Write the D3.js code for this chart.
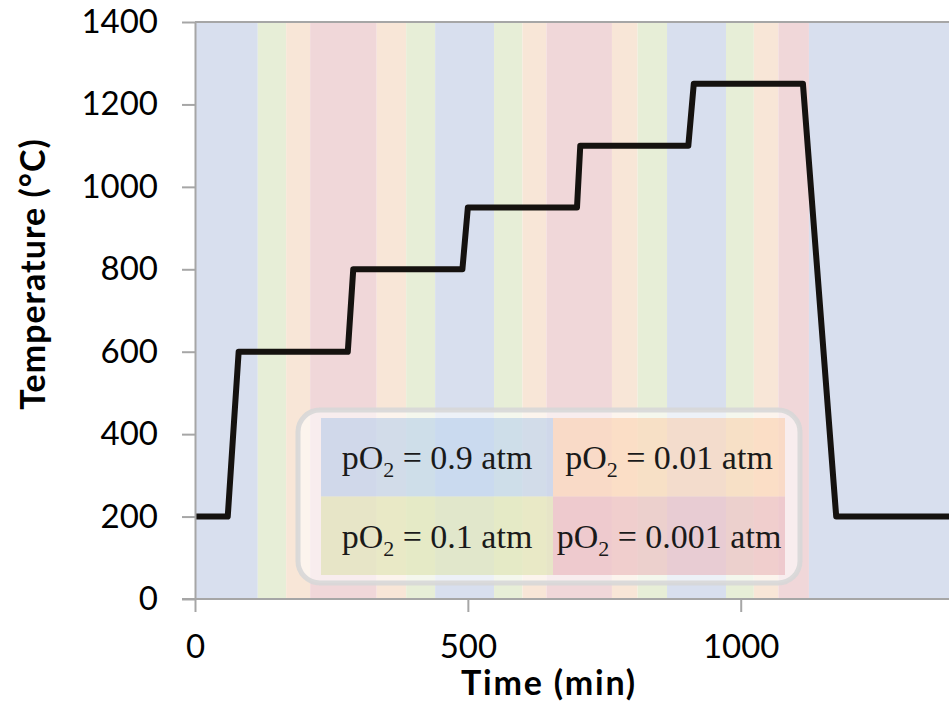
<!DOCTYPE html>
<html>
<head>
<meta charset="utf-8">
<script src="https://cdn.jsdelivr.net/npm/d3@7"></script>
<style>
  body { margin: 0; background: #fff; }
  svg { display: block; }
</style>
</head>
<body>
<div id="chart"></div>
<script>
// temperature profile (min, °C)
const timeMin = [0, 60, 80, 280, 290, 490, 500, 700, 706, 904, 914, 1114, 1175, 1400];
const tempC   = [200, 200, 600, 600, 800, 800, 950, 950, 1100, 1100, 1250, 1250, 200, 200];

// gas atmosphere bands: start/end time and pO2 level
const bandStart = [0, 115, 167, 211, 333, 387, 440, 548, 600, 644, 764, 811, 865, 973, 1024, 1069, 1125];
const bandEnd   = [115, 167, 211, 333, 387, 440, 548, 600, 644, 764, 811, 865, 973, 1024, 1069, 1125, 1400];
const bandGas   = ['0.9', '0.1', '0.01', '0.001', '0.01', '0.1', '0.9', '0.1', '0.01', '0.001', '0.01', '0.1', '0.9', '0.1', '0.01', '0.001', '0.9'];

// legend layout order (row by row)
const legendGas = ['0.9', '0.01', '0.1', '0.001'];

const xTicks = [0, 500, 1000];
const yTicks = [0, 200, 400, 600, 800, 1000, 1200, 1400];

const width = 949, height = 703;
const margin = {top: 22, left: 195, bottom: 104};

const svg = d3.select('#chart').append('svg')
    .attr('width', width)
    .attr('height', height);

const xScale = d3.scaleLinear().domain([0, 1400]).range([margin.left, 959]);
const yScale = d3.scaleLinear().domain([0, 1400]).range([height - margin.bottom, margin.top]);

const bandColor = d3.scaleOrdinal()
    .domain(['0.9', '0.1', '0.01', '0.001'])
    .range(['#d8dfee', '#e7eed7', '#f8e6d7', '#f0d7d9']);

const cellColor = d3.scaleOrdinal()
    .domain(['0.9', '0.1', '0.01', '0.001'])
    .range(['rgba(160,190,228,0.45)', 'rgba(214,222,160,0.5)', 'rgba(250,196,150,0.45)', 'rgba(226,160,166,0.45)']);

// background bands
svg.append('g')
  .selectAll('rect')
  .data(bandGas)
  .join('rect')
    .attr('x', (d, i) => xScale(bandStart[i]))
    .attr('width', (d, i) => xScale(bandEnd[i]) - xScale(bandStart[i]))
    .attr('y', yScale(1400))
    .attr('height', yScale(0) - yScale(1400))
    .attr('fill', d => bandColor(d));

// top border of plot area
svg.append('line')
    .attr('x1', xScale(0)).attr('x2', width)
    .attr('y1', yScale(1400)).attr('y2', yScale(1400))
    .attr('stroke', '#a6a6a6')
    .attr('stroke-width', 2);

// legend box
const legendX = 298, legendY = 410;
const cellW = 232, cellH = 78.5;
const legend = svg.append('g');

legend.append('rect')
    .attr('x', legendX).attr('y', legendY)
    .attr('width', 502).attr('height', 173)
    .attr('rx', 22)
    .attr('fill', 'rgba(255,255,255,0.55)')
    .attr('stroke', 'rgba(215,215,215,0.9)')
    .attr('stroke-width', 5);

const cells = legend.selectAll('g.cell')
  .data(legendGas)
  .join('g')
    .attr('class', 'cell')
    .attr('transform', (d, i) => `translate(${legendX + 23 + (i % 2) * cellW}, ${legendY + 8 + Math.floor(i / 2) * cellH})`);

cells.append('rect')
    .attr('width', cellW)
    .attr('height', cellH)
    .attr('fill', d => cellColor(d));

const cellText = cells.append('text')
    .attr('x', cellW / 2)
    .attr('y', 51)
    .attr('text-anchor', 'middle')
    .style('font-family', '"Liberation Serif", "Times New Roman", serif')
    .style('font-size', '34px')
    .attr('fill', '#1a1a1a');
cellText.append('tspan').text('pO');
cellText.append('tspan').attr('dy', 8).style('font-size', '22px').text('2');
cellText.append('tspan').attr('dy', -8).text(d => ` = ${d} atm`);

// temperature line
const line = d3.line()
    .x((d, i) => xScale(timeMin[i]))
    .y(d => yScale(d));

svg.append('path')
    .datum(tempC)
    .attr('d', line)
    .attr('fill', 'none')
    .attr('stroke', '#15120f')
    .attr('stroke-width', 6)
    .attr('stroke-linejoin', 'round');

// axes
const yAxis = svg.append('g')
    .attr('transform', `translate(${margin.left},0)`)
    .call(d3.axisLeft(yScale).tickValues(yTicks).tickFormat(d3.format('d'))
      .tickSize(13).tickSizeOuter(0).tickPadding(24));

const xAxis = svg.append('g')
    .attr('transform', `translate(0,${yScale(0)})`)
    .call(d3.axisBottom(xScale).tickValues(xTicks).tickFormat(d3.format('d'))
      .tickSize(13).tickSizeOuter(0));

[yAxis, xAxis].forEach(ax => {
  ax.select('.domain').attr('stroke', '#a6a6a6').attr('stroke-width', 2);
  ax.selectAll('.tick line').attr('stroke', '#a6a6a6').attr('stroke-width', 2);
  ax.selectAll('text')
    .style('font-family', 'Lato, sans-serif')
    .style('font-size', '33px')
    .attr('fill', '#000');
});

// x axis line extends left to the y tick
xAxis.select('.domain').attr('d', `M${xScale(0) - 13},0H${width}`);
xAxis.selectAll('text').attr('y', 47).attr('dy', '0.35em');

// axis titles
svg.append('text')
    .attr('x', 549)
    .attr('y', 695)
    .attr('text-anchor', 'middle')
    .style('font-family', 'Lato, sans-serif')
    .style('font-weight', 'bold')
    .style('font-size', '34px')
    .style('letter-spacing', '1.8px')
    .text('Time (min)');

svg.append('text')
    .attr('transform', 'translate(33,274) rotate(-90)')
    .attr('text-anchor', 'middle')
    .attr('dy', '0.35em')
    .style('font-family', 'Lato, sans-serif')
    .style('font-weight', 'bold')
    .style('font-size', '34px')
    .style('letter-spacing', '1px')
    .text('Temperature (°C)');
</script>
</body>
</html>
